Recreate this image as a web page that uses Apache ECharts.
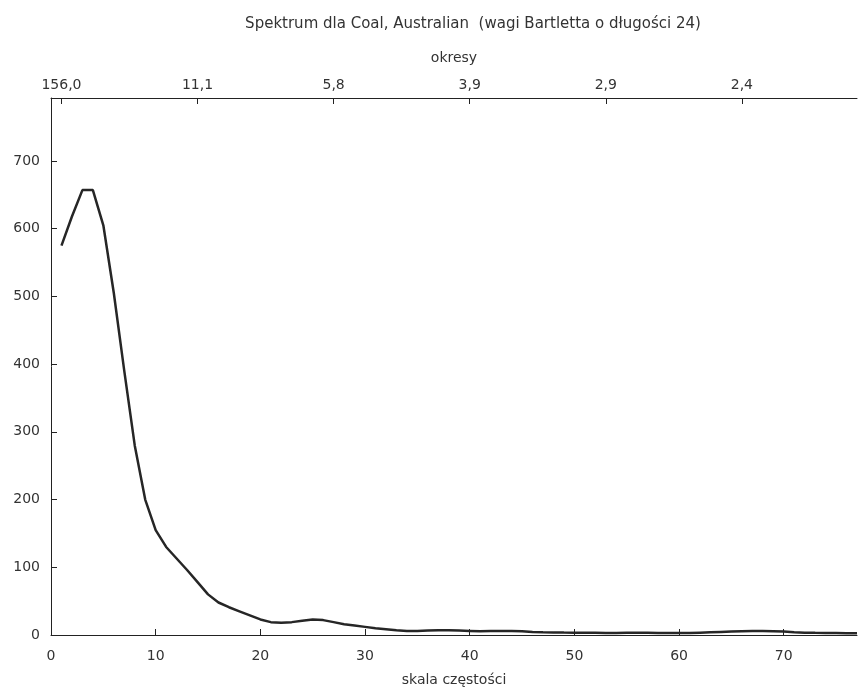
<!DOCTYPE html>
<html>
<head>
<meta charset="utf-8">
<script src="https://cdn.jsdelivr.net/npm/echarts@6/dist/echarts.min.js"></script>
<style>html,body{margin:0;padding:0;background:#fff;}#c{width:858px;height:689px;}</style>
</head>
<body>
<div id="c"></div>
<script>
// Frequency index (skala częstości) and spectral density values
const freqs = [];
for (let j = 1; j <= 77; j++) freqs.push(j);
const spectrum = [
  575, 618, 657, 657, 605, 505, 390, 280, 200, 155,
  130, 113, 96, 78, 60, 48, 41, 35, 29, 23,
  19, 18, 19, 21, 23, 22, 19, 16, 14, 12,
  10, 8.5, 7, 6, 6, 6.5, 7, 7, 6.5, 6,
  5.5, 5.8, 6, 6, 5.5, 4.5, 4, 3.8, 3.6, 3.5,
  3.3, 3.2, 3, 3, 3.2, 3.3, 3.2, 3, 2.8, 2.8,
  3, 3.5, 4, 4.5, 5, 5.5, 6, 6, 5.5, 5,
  4, 3.5, 3.2, 3, 2.8, 2.6, 2.5
];
const bottomTicks = [0, 10, 20, 30, 40, 50, 60, 70];
const topTickPositions = [1, 14, 27, 40, 53, 66];
const topTickLabels = ["156,0", "11,1", "5,8", "3,9", "2,9", "2,4"];
const yTicks = [0, 100, 200, 300, 400, 500, 600, 700];

const titleText = "Spektrum dla Coal, Australian  (wagi Bartletta o długości 24)";
const font = "DejaVu Sans";
const textColor = "#333";
const axisColor = "#222";
const fs = 14;

const chart = echarts.init(document.getElementById('c'), null, {renderer: 'canvas'});
const option = {
  animation: false,
  backgroundColor: '#fff',
  title: {
    text: titleText,
    left: 468, top: 12, textAlign: 'center',
    textStyle: {fontFamily: font, fontSize: 15, fontWeight: 'normal', color: textColor}
  },
  grid: {left: 51, right: 1, top: 98, bottom: 54, containLabel: false, outerBoundsMode: 'none'},
  xAxis: [
    {
      type: 'value', position: 'bottom', min: 0, max: 77,
      name: 'skala częstości', nameLocation: 'middle', nameGap: 38,
      nameTextStyle: {fontFamily: font, fontSize: fs, color: textColor},
      axisLine: {show: true, lineStyle: {color: axisColor, width: 1}},
      axisTick: {show: true, inside: true, length: 6, customValues: bottomTicks, lineStyle: {color: axisColor}},
      axisLabel: {customValues: bottomTicks, fontFamily: font, fontSize: fs, color: textColor, margin: 14},
      splitLine: {show: false}
    },
    {
      type: 'value', position: 'top', min: 0, max: 77,
      name: 'okresy', nameLocation: 'middle', nameGap: 33,
      nameTextStyle: {fontFamily: font, fontSize: fs, color: textColor},
      axisLine: {show: true, onZero: false, lineStyle: {color: axisColor, width: 1}},
      axisTick: {show: true, inside: true, length: 6, customValues: topTickPositions, lineStyle: {color: axisColor}},
      axisLabel: {
        customValues: topTickPositions, fontFamily: font, fontSize: fs, color: textColor, margin: 6,
        formatter: function (v) { const i = topTickPositions.indexOf(v); return i >= 0 ? topTickLabels[i] : ''; }
      },
      splitLine: {show: false}
    }
  ],
  yAxis: {
    type: 'value', min: 0, max: 793,
    axisLine: {show: true, lineStyle: {color: axisColor, width: 1}},
    axisTick: {show: true, inside: true, length: 6, customValues: yTicks, lineStyle: {color: axisColor}},
    axisLabel: {customValues: yTicks, fontFamily: font, fontSize: fs, color: textColor, margin: 11},
    splitLine: {show: false}
  },
  series: [{
    type: 'line', xAxisIndex: 0,
    data: freqs.map((f, i) => [f, spectrum[i]]),
    showSymbol: false, smooth: false,
    lineStyle: {color: '#262626', width: 2.5},
    clip: true
  }]
};
chart.setOption(option);
</script>
</body>
</html>
